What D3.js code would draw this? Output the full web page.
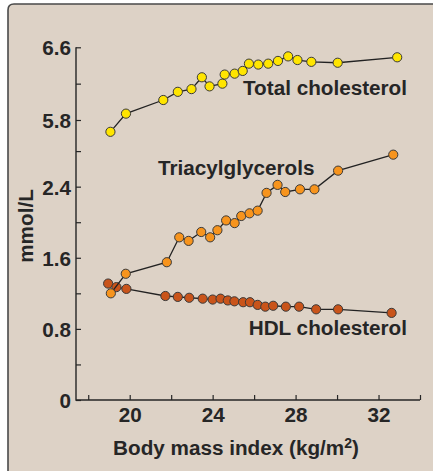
<!DOCTYPE html>
<html><head><meta charset="utf-8">
<script src="https://cdn.jsdelivr.net/npm/d3@7"></script>
<style>
html,body{margin:0;padding:0;background:#fff;}
svg{display:block;font-family:"Liberation Sans",Arial,Helvetica,sans-serif;}
</style></head>
<body>
<svg id="c" width="433" height="471"></svg>
<script>
// ---- data ----
const totalBMI = [19.07,19.82,21.62,22.32,22.98,23.48,23.85,24.47,24.58,25.06,25.45,25.75,26.20,26.68,27.15,27.64,28.09,28.76,30.03,32.90];
const totalVal = [5.67,5.87,6.02,6.11,6.14,6.27,6.17,6.20,6.30,6.31,6.34,6.42,6.41,6.42,6.45,6.50,6.46,6.44,6.43,6.49];
const triBMI = [19.09,19.81,21.79,22.39,22.84,23.45,23.88,24.23,24.65,25.06,25.38,25.78,26.17,26.60,27.13,27.50,28.21,28.91,30.05,32.71];
const triVal = [1.20,1.42,1.55,1.83,1.79,1.89,1.83,1.91,2.02,1.99,2.07,2.10,2.13,2.33,2.42,2.34,2.37,2.37,2.58,2.76];
const hdlBMI = [18.96,19.36,19.84,21.72,22.32,22.87,23.52,24.00,24.38,24.73,25.05,25.47,25.80,26.17,26.54,26.92,27.53,28.17,28.99,30.05,32.63];
const hdlVal = [1.31,1.27,1.25,1.17,1.16,1.15,1.14,1.13,1.14,1.12,1.11,1.10,1.10,1.07,1.05,1.06,1.05,1.05,1.02,1.02,0.98];
const xTicks = [18,20,22,24,26,28,30,32,34];
const xTickLabels = [20,24,28,32];
const yLowTicks = [0,0.4,0.8,1.2,1.6,2.0,2.4,2.8];
const yLowLabels = [0,0.8,1.6,2.4];
const yUpTicks = [5.8,6.2,6.6];
const yUpLabels = [5.8,6.6];
const seriesNames = ["Total cholesterol","Triacylglycerols","HDL cholesterol"];
const xTitle = "Body mass index (kg/m";
const yTitle = "mmol/L";

const svg = d3.select("#c");
const ink = "#262626";
const FS = 20.7;

// panel background with rounded top-left corner
svg.append("path")
  .attr("d","M8,480 L8,10 Q8,4 14,4 L445,4 L445,480 Z")
  .attr("fill","#ddd2c6").attr("stroke","#4a4a4a").attr("stroke-width",1.6);

const x = d3.scaleLinear().domain([17.41,34]).range([76,420]);
const yLow = d3.scaleLinear().domain([0,2.8]).range([400,151.1]);
const yUp = d3.scaleLinear().domain([5.8,6.6]).range([120,47.3]);

const fmt = d3.format(".1f");
// x axis
const xa = svg.append("g").attr("transform","translate(0,400)")
  .call(d3.axisBottom(x).tickValues(xTicks).tickSizeInner(-5).tickSizeOuter(0)
    .tickFormat(d => xTickLabels.includes(d) ? d : ""));
xa.select(".domain").remove();
xa.selectAll("line").attr("stroke",ink).attr("stroke-width",1.2);
xa.selectAll("text").attr("fill",ink).attr("font-size",FS).attr("font-weight","bold")
  .attr("font-family","Liberation Sans, Arial, sans-serif").attr("y",22).attr("dy",0);

// y axes
function yAxis(scale, ticks, labels){
  const g = svg.append("g").attr("transform","translate(76,0)")
    .call(d3.axisLeft(scale).tickValues(ticks).tickSizeInner(-5).tickSizeOuter(0)
      .tickFormat(d => labels.some(l => Math.abs(l-d)<1e-9) ? (d===0?"0":fmt(d)) : ""));
  g.select(".domain").remove();
  g.selectAll("line").attr("stroke",ink).attr("stroke-width",1.2);
  g.selectAll("text").attr("fill",ink).attr("font-size",FS).attr("font-weight","bold")
    .attr("font-family","Liberation Sans, Arial, sans-serif").attr("x",-5).attr("dy","0.36em");
}
yAxis(yLow, yLowTicks, yLowLabels);
yAxis(yUp, yUpTicks, yUpLabels);

// axis lines
svg.append("path")
  .attr("d",`M${x(17.41)},${yUp(6.6)} L${x(17.41)},${yLow(0)} L${x(34)},${yLow(0)}`)
  .attr("fill","none").attr("stroke",ink).attr("stroke-width",1.4);

// series
function series(bmi, vals, scale, color){
  const pts = bmi.map((b,i)=>[x(b), scale(vals[i])]);
  svg.append("path").attr("d", d3.line()(pts)).attr("fill","none")
    .attr("stroke","#222").attr("stroke-width",1.3);
  svg.append("g").selectAll("circle").data(pts).join("circle")
    .attr("cx",d=>d[0]).attr("cy",d=>d[1]).attr("r",4.6)
    .attr("fill",color).attr("stroke","#3a3a3a").attr("stroke-width",1);
}
series(hdlBMI, hdlVal, yLow, "#c9541a");
series(triBMI, triVal, yLow, "#f7941d");
series(totalBMI, totalVal, yUp, "#ffe500");

// series labels
const lab = (t,xp,yp,anchor) => svg.append("text").text(t).attr("x",xp).attr("y",yp)
  .attr("text-anchor",anchor).attr("font-size",FS).attr("font-weight","bold").attr("fill",ink);
lab(seriesNames[0], 407, 95, "end");
lab(seriesNames[1], 158, 175, "start");
lab(seriesNames[2], 407, 335, "end");

// axis titles
const xt = svg.append("text").attr("x",236).attr("y",455).attr("text-anchor","middle")
  .attr("font-size",FS).attr("font-weight","bold").attr("fill",ink);
xt.append("tspan").text(xTitle);
xt.append("tspan").text("2").attr("font-size",14).attr("dy",-7);
xt.append("tspan").text(")").attr("dy",7);

svg.append("text").text(yTitle)
  .attr("transform","translate(33,226) rotate(-90)")
  .attr("text-anchor","middle").attr("font-size",FS).attr("font-weight","bold").attr("fill",ink);
</script>
</body></html>
